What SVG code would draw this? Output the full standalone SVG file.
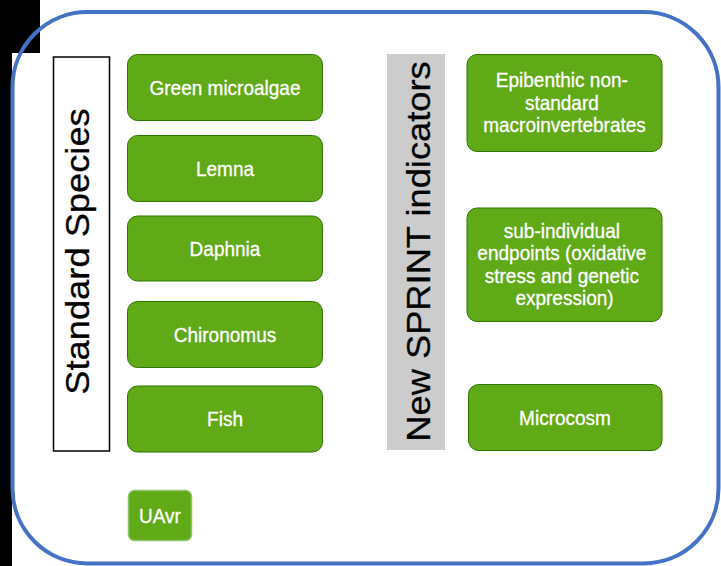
<svg xmlns="http://www.w3.org/2000/svg" width="721" height="566" viewBox="0 0 721 566">
  <style>
    .node rect { fill: #60a917; stroke: #2d7600; stroke-width: 1; }
    .lbl { font-family: "Liberation Sans", Arial, Helvetica, sans-serif; font-size: 19px; fill: #ffffff; stroke: #ffffff; stroke-width: 0.3; text-anchor: middle; }
    .title { font-family: "Liberation Sans", Arial, Helvetica, sans-serif; font-size: 33px; fill: #000000; stroke: #000000; stroke-width: 0.3; text-anchor: middle; }
  </style>

  <!-- page backdrop -->
  <rect x="0" y="0" width="721" height="566" fill="#ffffff"/>
  <rect x="0" y="0" width="40" height="566" fill="#000000"/>
  <rect x="12" y="53" width="28" height="513" fill="#ffffff"/>

  <!-- outer frame -->
  <rect id="frame" x="12.5" y="12" width="706" height="551.5" rx="75" ry="75" fill="none" stroke="#4472c4" stroke-width="4"/>

  <!-- column headers -->
  <g id="standard-species">
    <rect x="53.5" y="57" width="56" height="394" fill="#ffffff" stroke="#000000" stroke-width="1.5"/>
    <text class="title" transform="translate(88.5,251.5) scale(1,1.1) rotate(-90)">Standard Species</text>
  </g>
  <g id="sprint-indicators">
    <rect x="387" y="54" width="58" height="396" fill="#cccccc"/>
    <text class="title" transform="translate(429.5,251.5) scale(1,1.1) rotate(-90)">New SPRINT indicators</text>
  </g>

  <!-- standard species -->
  <g id="green-microalgae" class="node">
    <rect x="127.5" y="54.5" width="195" height="66" rx="10"/>
    <text class="lbl" transform="translate(225,94.5) scale(1,1.1)">Green microalgae</text>
  </g>
  <g id="lemna" class="node">
    <rect x="127.5" y="135.5" width="195" height="66" rx="10"/>
    <text class="lbl" transform="translate(225,175.5) scale(1,1.1)">Lemna</text>
  </g>
  <g id="daphnia" class="node">
    <rect x="127.5" y="216" width="195" height="65" rx="10"/>
    <text class="lbl" transform="translate(225,255.5) scale(1,1.1)">Daphnia</text>
  </g>
  <g id="chironomus" class="node">
    <rect x="127.5" y="301.5" width="195" height="66" rx="10"/>
    <text class="lbl" transform="translate(225,341.5) scale(1,1.1)">Chironomus</text>
  </g>
  <g id="fish" class="node">
    <rect x="127.5" y="386" width="195" height="66" rx="10"/>
    <text class="lbl" transform="translate(225,426) scale(1,1.1)">Fish</text>
  </g>

  <!-- new indicators -->
  <g id="epibenthic" class="node">
    <rect x="467" y="54.5" width="195" height="97" rx="10"/>
    <text class="lbl" transform="translate(564.5,87) scale(1,1.1)">
      <tspan x="0" y="0">Epibenthic non-</tspan>
      <tspan x="0" dy="20.5">standard</tspan>
      <tspan x="0" dy="20.5">macroinvertebrates</tspan>
    </text>
  </g>
  <g id="sub-individual" class="node">
    <rect x="467" y="208" width="195" height="113.5" rx="10"/>
    <text class="lbl" transform="translate(564.5,237.5) scale(1,1.1)">
      <tspan x="0" y="0">sub-individual</tspan>
      <tspan x="0" dy="20.5">endpoints (oxidative</tspan>
      <tspan x="0" dy="20.5">stress and genetic</tspan>
      <tspan x="0" dy="20.5">expression)</tspan>
    </text>
  </g>
  <g id="microcosm" class="node">
    <rect x="468.5" y="384.5" width="193.5" height="66" rx="10"/>
    <text class="lbl" transform="translate(565,424.5) scale(1,1.1)">Microcosm</text>
  </g>

  <!-- affiliation tag -->
  <g id="uavr">
    <rect x="128.5" y="490.5" width="63" height="50" rx="6" fill="#60a917" stroke="#8fc46a" stroke-width="1.5"/>
    <text class="lbl" transform="translate(160,522.5) scale(1,1.1)">UAvr</text>
  </g>

  <!-- no connectors in this figure -->
  <g id="connectors"/>
</svg>
